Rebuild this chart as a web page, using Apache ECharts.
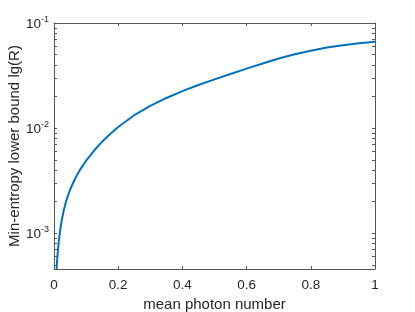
<!DOCTYPE html>
<html>
<head>
<meta charset="utf-8">
<script src="https://cdn.jsdelivr.net/npm/echarts@6/dist/echarts.min.js"></script>
<style>
html,body{margin:0;padding:0;background:#fff;}
#chart{width:415px;height:312px;}
</style>
</head>
<body>
<div id="chart"></div>
<script>
// mean photon number
const photonNumbers = [0.005, 0.007, 0.01, 0.0125, 0.015, 0.02, 0.025, 0.03, 0.035, 0.04, 0.05, 0.06, 0.07, 0.08, 0.09, 0.1, 0.125, 0.15, 0.175, 0.2, 0.25, 0.3, 0.35, 0.4, 0.45, 0.5, 0.55, 0.6, 0.65, 0.7, 0.75, 0.8, 0.85, 0.9, 0.95, 1.0];
// min-entropy lower bound R
const entropyBound = [2.877e-4, 4.01e-4, 5.689e-4, 7.08e-4, 8.43e-4, 1.112e-3, 1.374e-3, 1.630e-3, 1.880e-3, 2.124e-3, 2.594e-3, 3.042e-3, 3.508e-3, 3.964e-3, 4.428e-3, 4.898e-3, 6.123e-3, 7.433e-3, 8.811e-3, 1.0258e-2, 1.327e-2, 1.630e-2, 1.937e-2, 2.249e-2, 2.572e-2, 2.911e-2, 3.276e-2, 3.683e-2, 4.120e-2, 4.593e-2, 5.048e-2, 5.458e-2, 5.840e-2, 6.155e-2, 6.408e-2, 6.637e-2];

const xTickValues = [0, 0.2, 0.4, 0.6, 0.8, 1];
const yTickValues = [0.001, 0.01, 0.1];
const yTickExponents = ['-3', '-2', '-1'];
const yMinorTickValues = [5e-4, 6e-4, 7e-4, 8e-4, 9e-4, 2e-3, 3e-3, 4e-3, 5e-3, 6e-3, 7e-3, 8e-3, 9e-3, 2e-2, 3e-2, 4e-2, 5e-2, 6e-2, 7e-2, 8e-2, 9e-2];
const yMin = 4.575e-4, yMax = 0.1;

const textColor = '#262626';
const lineColor = '#555555';
const font = 'Liberation Sans, Arial, Helvetica, sans-serif';

const allYTicks = yTickValues.concat(yMinorTickValues).sort((a, b) => a - b);

function yLabel(v) {
  const i = yTickValues.findIndex(t => Math.abs(Math.log10(t) - Math.log10(v)) < 1e-6);
  if (i < 0) return '';
  return '{b|10}{s|' + yTickExponents[i] + '}';
}

const chart = echarts.init(document.getElementById('chart'), null, {renderer: 'canvas'});
const baseX = {
  type: 'value', min: 0, max: 1, interval: 0.2,
  axisLine: {show: true, onZero: false, lineStyle: {color: lineColor, width: 1}},
  axisTick: {show: true, inside: true, length: 3, customValues: xTickValues, lineStyle: {color: lineColor}},
  splitLine: {show: false}
};
const baseY = {
  type: 'log', logBase: 10, min: yMin, max: yMax,
  axisLine: {show: true, onZero: false, lineStyle: {color: lineColor, width: 1}},
  axisTick: {show: true, inside: true, length: 3, customValues: allYTicks, lineStyle: {color: lineColor}},
  splitLine: {show: false}
};

chart.setOption({
  animation: false,
  backgroundColor: '#ffffff',
  grid: {left: 54, right: 40, top: 23, bottom: 43, containLabel: false, outerBoundsMode: 'none'},
  xAxis: [
    Object.assign({}, baseX, {
      position: 'bottom',
      name: 'mean photon number',
      nameLocation: 'middle',
      nameGap: 28,
      nameMoveOverlap: false,
      nameTextStyle: {color: textColor, fontSize: 15, fontFamily: font},
      axisLabel: {show: true, color: textColor, fontSize: 13.5, fontFamily: font, margin: 9, customValues: xTickValues}
    }),
    Object.assign({}, baseX, {position: 'top', axisLabel: {show: false}})
  ],
  yAxis: [
    Object.assign({}, baseY, {
      position: 'left',
      name: 'Min-entropy lower bound lg(R)',
      nameLocation: 'middle',
      nameRotate: 90,
      nameGap: 32,
      nameMoveOverlap: false,
      nameTextStyle: {color: textColor, fontSize: 15, fontFamily: font},
      axisLabel: {
        show: true, margin: 5, customValues: yTickValues, formatter: yLabel,
        color: textColor, fontFamily: font,
        rich: {
          b: {fontSize: 13.5, color: textColor, fontFamily: font, verticalAlign: 'bottom'},
          s: {fontSize: 9, color: textColor, fontFamily: font, verticalAlign: 'bottom', padding: [0, 0, 7, 0]}
        }
      }
    }),
    Object.assign({}, baseY, {position: 'right', axisLabel: {show: false}})
  ],
  series: [{
    type: 'line',
    xAxisIndex: 0, yAxisIndex: 0,
    data: photonNumbers.map((x, i) => [x, entropyBound[i]]),
    showSymbol: false, symbol: 'none',
    smooth: false,
    clip: true,
    lineStyle: {color: '#0072BD', width: 2}
  }]
});
</script>
</body>
</html>
